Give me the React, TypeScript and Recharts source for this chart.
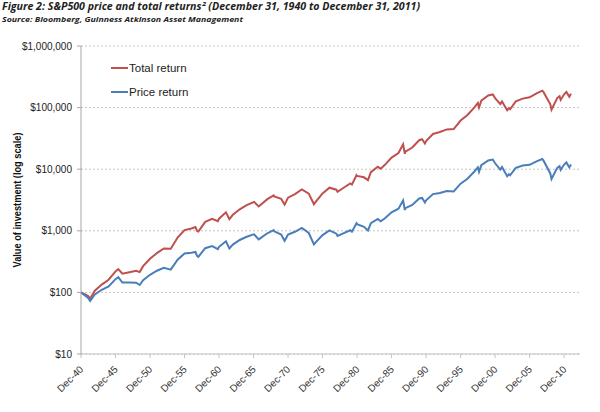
import React from 'react';
import { LineChart, Line, XAxis, YAxis, CartesianGrid, Legend, Label } from 'recharts';

// years since Dec-1940 (0 = Dec-40 tick)
const periods = [
  0, 1, 1.33, 2, 3, 4, 5, 5.4, 6, 7, 8, 8.5, 9, 10, 11, 12, 13, 14, 15, 16, 16.58, 16.83, 17, 18, 19, 19.83, 20,
  21, 21.5, 22, 23, 24, 25, 25.08, 25.75, 26, 27, 27.92, 28, 29, 29.5, 30, 31, 32, 33, 33.75, 34, 35, 36, 37,
  37.17, 38, 39, 39.25, 39.92, 40, 41, 41.58, 42, 43, 43.42, 44, 45, 46, 46.67, 46.92, 47, 48, 49, 49.42, 49.83,
  50, 51, 52, 53, 54, 55, 56, 57, 57.5, 57.67, 58, 59, 59.67, 60, 60.75, 61, 61.75, 62, 62.17, 63, 64, 65, 66,
  66.83, 67, 68, 68.17, 69, 69.33, 69.5, 70, 70.33, 70.75, 71,
];

const totalReturn = [
  100, 88.4, 79.5, 106.4, 134, 160.4, 218.9, 239.3, 201.2, 212.6, 224.4, 213.4, 266.7, 351.1, 435.5, 515.5, 510.4,
  778.8, 1025, 1092, 1149, 990, 974, 1397, 1564, 1433, 1571, 1993, 1549, 1819, 2234, 2603, 2927, 2950, 2483, 2633,
  3264, 3769, 3625, 3317, 2665, 3450, 3945, 4694, 4006, 2701, 2946, 4043, 5006, 4647, 4291, 4951, 5864, 5618, 7977,
  7767, 7385, 6647, 8967, 10984, 10207, 11673, 15430, 18280, 25393, 17819, 19231, 22462, 29532, 30640, 26166, 28600,
  37340, 40220, 44230, 44810, 61560, 75770, 101060, 118900, 100590, 129960, 157290, 163600, 142990, 113860, 125980,
  90620, 98130, 94100, 126290, 140030, 146900, 170100, 188600, 179500, 113000, 92240, 142960, 153050, 133330, 164500,
  179430, 150200, 168000,
];

const priceReturn = [
  100, 82.1, 72.4, 92.3, 110.3, 125.5, 164.1, 176.7, 144.6, 144.6, 143.7, 132, 158.4, 192.9, 224.7, 251.1, 234.5,
  340.1, 429.9, 441.1, 452.8, 388.1, 378, 521.8, 566.1, 504.6, 549.2, 676.3, 517.5, 596.4, 709.1, 801, 873.6, 877.9,
  723.6, 759.3, 911.8, 1024, 981.7, 870.1, 687.3, 871, 964.9, 1115.8, 922, 600.6, 648, 852.5, 1015.7, 898.9, 822.7,
  908.4, 1020.2, 964.9, 1328, 1283, 1158, 1012, 1329, 1559, 1423, 1581, 1997, 2289, 3117, 2177, 2335, 2625, 3340,
  3414, 2873, 3121, 3942, 4118, 4409, 4341, 5822, 7001, 9172, 10717, 9048, 11618, 13887, 14345, 12479, 9839, 10851,
  7706, 8316, 7950, 10510, 11455, 11799, 13405, 14644, 13879, 8537, 6948, 10540, 11216, 9742, 11887, 12888, 10694,
  11887,
];

const xTicks = [0, 5, 10, 15, 20, 25, 30, 35, 40, 45, 50, 55, 60, 65, 70];
const yTicks = [10, 100, 1000, 10000, 100000, 1000000];

const seriesNames = ['Total return', 'Price return'];
const seriesKeys = ['total', 'price'];
const seriesColors = ['#C0504D', '#4A7EBB'];

const data = periods.map((t, i) => ({ t, total: totalReturn[i], price: priceReturn[i] }));

const font = '"Liberation Sans", Arial, sans-serif';

const fmtDollar = (v: number) => '$' + v.toLocaleString('en-US');
const fmtDec = (t: number) => 'Dec-' + String((1940 + t) % 100).padStart(2, '0');

const XTick = (props: any) => {
  const { x, y, payload } = props;
  return (
    <g transform={`translate(${x},${y})`}>
      <text
        transform="translate(3,10) rotate(-45)"
        textAnchor="end"
        fontSize={10}
        fontFamily={font}
        fill="#333"
      >
        {fmtDec(payload.value)}
      </text>
    </g>
  );
};

const LegendBox = () => (
  <div style={{ fontFamily: font, fontSize: 11.5, color: '#222' }}>
    {seriesNames.map((name, i) => (
      <div key={name} style={{ display: 'flex', alignItems: 'center', height: 16, marginBottom: 8 }}>
        <span style={{ display: 'inline-block', width: 17, height: 2, background: seriesColors[i], marginRight: 1 }} />
        <span>{name}</span>
      </div>
    ))}
  </div>
);

export default function App() {
  return (
    <div style={{ position: 'absolute', left: 0, top: 0, width: 600, height: 412, background: '#fff' }}>
      <LineChart width={600} height={412} data={data} margin={{ top: 46, right: 20, bottom: 0, left: 0 }}>
        <CartesianGrid vertical={false} stroke="#c4c4c4" strokeDasharray="2 2" />
        <XAxis
          dataKey="t"
          type="number"
          domain={[0, 72.3]}
          ticks={xTicks}
          interval={0}
          height={58}
          tick={<XTick />}
          tickSize={4}
          tickMargin={2}
          stroke="#c4c4c4"
        />
        <YAxis
          type="number"
          scale="log"
          domain={[10, 1000000]}
          ticks={yTicks}
          allowDataOverflow
          width={81}
          tickFormatter={fmtDollar}
          tickSize={4}
          tickMargin={5}
          stroke="#a6a6a6"
          tick={{ fontSize: 10, fontFamily: font, fill: '#222' }}
        >
          <Label
            content={() => (
              <text
                x={21}
                y={200}
                transform="rotate(-90 21 200)"
                textAnchor="middle"
                fontSize={10}
                fontWeight={700}
                fontFamily={font}
                fill="#111"
                textLength={135}
                lengthAdjust="spacingAndGlyphs"
              >
                Value of investment (log scale)
              </text>
            )}
          />
        </YAxis>
        <Legend
          layout="vertical"
          align="center"
          verticalAlign="middle"
          content={<LegendBox />}
          wrapperStyle={{ top: 60, left: 111, width: 120, height: 50 }}
        />
        {seriesKeys.map((k, i) => (
          <Line
            key={k}
            dataKey={k}
            name={seriesNames[i]}
            type="linear"
            stroke={seriesColors[i]}
            strokeWidth={2}
            dot={false}
            isAnimationActive={false}
          />
        ))}
      </LineChart>
      <svg width={600} height={26} style={{ position: 'absolute', left: 0, top: 0 }}>
        <text
          x={2}
          y={10.2}
          fontSize={10.2}
          fontStyle="italic"
          fontWeight={700}
          fontFamily='"Open Sans", sans-serif'
          fill="#1e1e1e"
          textLength={418}
          lengthAdjust="spacingAndGlyphs"
        >
          Figure 2: S&amp;P500 price and total returns² (December 31, 1940 to December 31, 2011)
        </text>
        <text
          x={2}
          y={21.5}
          fontSize={7.5}
          fontStyle="italic"
          fontWeight={700}
          fontFamily='"Open Sans", sans-serif'
          fill="#1e1e1e"
          textLength={241}
          lengthAdjust="spacingAndGlyphs"
        >
          Source: Bloomberg, Guinness Atkinson Asset Management
        </text>
      </svg>
    </div>
  );
}
